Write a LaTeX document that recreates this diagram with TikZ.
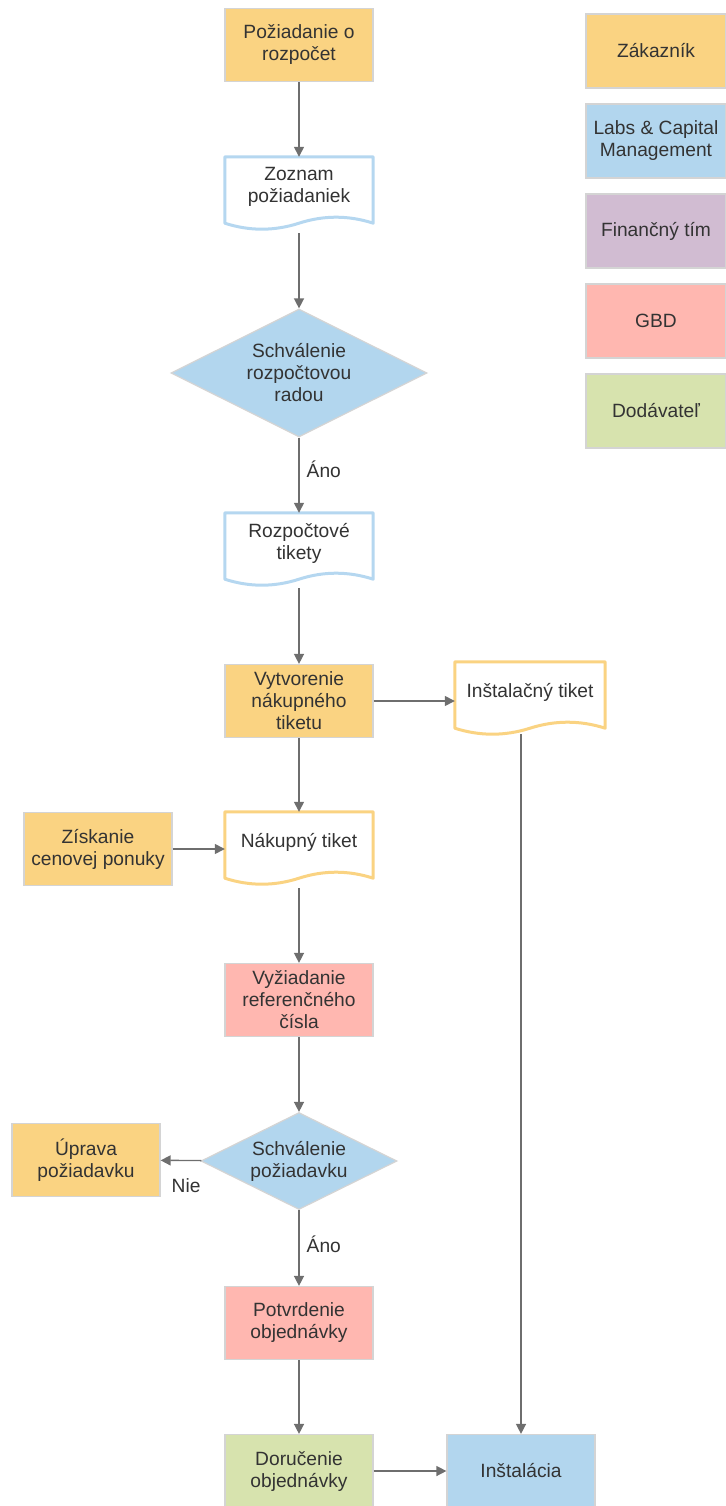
\documentclass[tikz,border=0pt]{standalone}
\usepackage{fontspec}
\setmainfont{Liberation Sans}
\usetikzlibrary{arrows.meta,shapes.geometric,calc}

\definecolor{custfill}{RGB}{250,211,130}
\definecolor{labfill}{RGB}{178,214,238}
\definecolor{finfill}{RGB}{209,188,210}
\definecolor{gbdfill}{RGB}{255,183,176}
\definecolor{supfill}{RGB}{215,227,174}
\definecolor{boxline}{RGB}{212,212,212}
\definecolor{docblue}{RGB}{181,215,240}
\definecolor{docorange}{RGB}{250,211,130}
\definecolor{flowline}{RGB}{110,110,110}
\definecolor{txt}{RGB}{51,51,51}

\tikzset{
  every node/.style={text=txt, font=\fontsize{19.2}{22}\selectfont},
  proc/.style={rectangle, draw=boxline, line width=1.2pt, fill=#1,
    minimum width=148pt, minimum height=73pt, inner sep=0pt, align=center},
  legendbox/.style={rectangle, draw=boxline, line width=1.2pt, fill=#1,
    minimum width=140pt, minimum height=74pt, inner sep=0pt, align=center},
  decision/.style={diamond, aspect=2, draw=boxline, line width=1.2pt,
    fill=labfill, inner sep=0pt, align=center},
  docnode/.style={rectangle, minimum width=#1, minimum height=60pt,
    inner sep=0pt, align=center},
  doctext/.style={align=center, inner sep=0pt},
  docline/.style={line width=3pt, fill=white, line join=round},
  flow/.style={draw=flowline, line width=1.4pt,
    -{Triangle[length=10pt,width=10pt]}},
  flowlabel/.style={anchor=west, inner sep=0pt},
}

% outline of a document symbol: flat top, wavy bottom below the text node
\newcommand\docframe[2]{%
  \draw[docline, draw=#2] (#1.north west) -- (#1.north east)
    -- ($(#1.south east)+(0,6)$)
    .. controls ($(#1.south west)!0.8333!(#1.south east)+(0,-2)$)
       and ($(#1.south west)!0.6667!(#1.south east)+(0,-2)$)
    .. ($(#1.south west)!0.5!(#1.south east)+(0,6)$)
    .. controls ($(#1.south west)!0.3333!(#1.south east)+(0,14)$)
       and ($(#1.south west)!0.1667!(#1.south east)+(0,14)$)
    .. ($(#1.south west)+(0,6)$) -- cycle;}

\begin{document}
\begin{tikzpicture}[x=1pt,y=-1pt]
\useasboundingbox (0,0) rectangle (725,1506);

% legend
\node[legendbox=custfill] (lg1) at (656,51) {Zákazník};
\node[legendbox=labfill]  (lg2) at (656,141) {Labs \& Capital\\Management};
\node[legendbox=finfill]  (lg3) at (656,231) {Finančný tím};
\node[legendbox=gbdfill]  (lg4) at (656,321) {GBD};
\node[legendbox=supfill]  (lg5) at (656,411) {Dodávateľ};

% main column
\node[proc=custfill] (req) at (299,45) {Požiadanie o\\rozpočet};

\node[docnode=148pt] (list) at (299,187) {};
\docframe{list}{docblue}
\node[doctext] (listtext) at (list) {Zoznam\\požiadaniek};

\node[decision, minimum width=256pt, minimum height=128pt] (board) at (299,373)
  {Schválenie\\rozpočtovou\\radou};

\node[docnode=148pt] (btix) at (299,543) {};
\docframe{btix}{docblue}
\node[doctext] (btixtext) at (btix) {Rozpočtové\\tikety};

\node[proc=custfill] (mkp) at (299,701) {Vytvorenie\\nákupného\\tiketu};

\node[docnode=150pt] (itix) at (530,692) {};
\docframe{itix}{docorange}
\node[doctext] (itixtext) at (itix) {Inštalačný tiket};

\node[docnode=148pt] (ptix) at (299,842) {};
\docframe{ptix}{docorange}
\node[doctext] (ptixtext) at (ptix) {Nákupný tiket};

\node[proc=custfill] (quote) at (98,849) {Získanie\\cenovej ponuky};

\node[proc=gbdfill] (ref) at (299,1000) {Vyžiadanie\\referenčného\\čísla};

\node[decision, minimum width=196pt, minimum height=97pt] (appr) at (299,1161)
  {Schválenie\\požiadavku};

\node[proc=custfill] (edit) at (86,1160) {Úprava\\požiadavku};

\node[proc=gbdfill] (conf) at (299,1323) {Potvrdenie\\objednávky};

\node[proc=supfill] (deliv) at (299,1471) {Doručenie\\objednávky};

\node[proc=labfill] (inst) at (521,1471) {Inštalácia};

% connectors
\draw[flow] (req) -- (list);
\draw[flow] ([yshift=-16pt]list.south) -- (board);
\draw[flow] (board) -- node[flowlabel, pos=0.42, xshift=7pt] (yes1) {Áno} (btix);
\draw[flow] ([yshift=-15pt]btix.south) -- (mkp);
\draw[flow] (mkp.east) -- (mkp.east -| itix.west);
\draw[flow] ([yshift=-12pt]itix.south -| inst.north) -- (inst);
\draw[flow] (mkp) -- (ptix);
\draw[flow] (quote) -- (quote -| ptix.west);
\draw[flow] ([yshift=-16pt]ptix.south) -- (ref);
\draw[flow] (ref) -- (appr);
\draw[flow] (appr) -- node[flowlabel, pos=0.45, xshift=-12pt, yshift=-25pt] (no) {Nie} (edit);
\draw[flow] (appr) -- node[flowlabel, pos=0.45, xshift=7pt] (yes2) {Áno} (conf);
\draw[flow] (conf) -- (deliv);
\draw[flow] (deliv) -- (inst);
\end{tikzpicture}
\end{document}
